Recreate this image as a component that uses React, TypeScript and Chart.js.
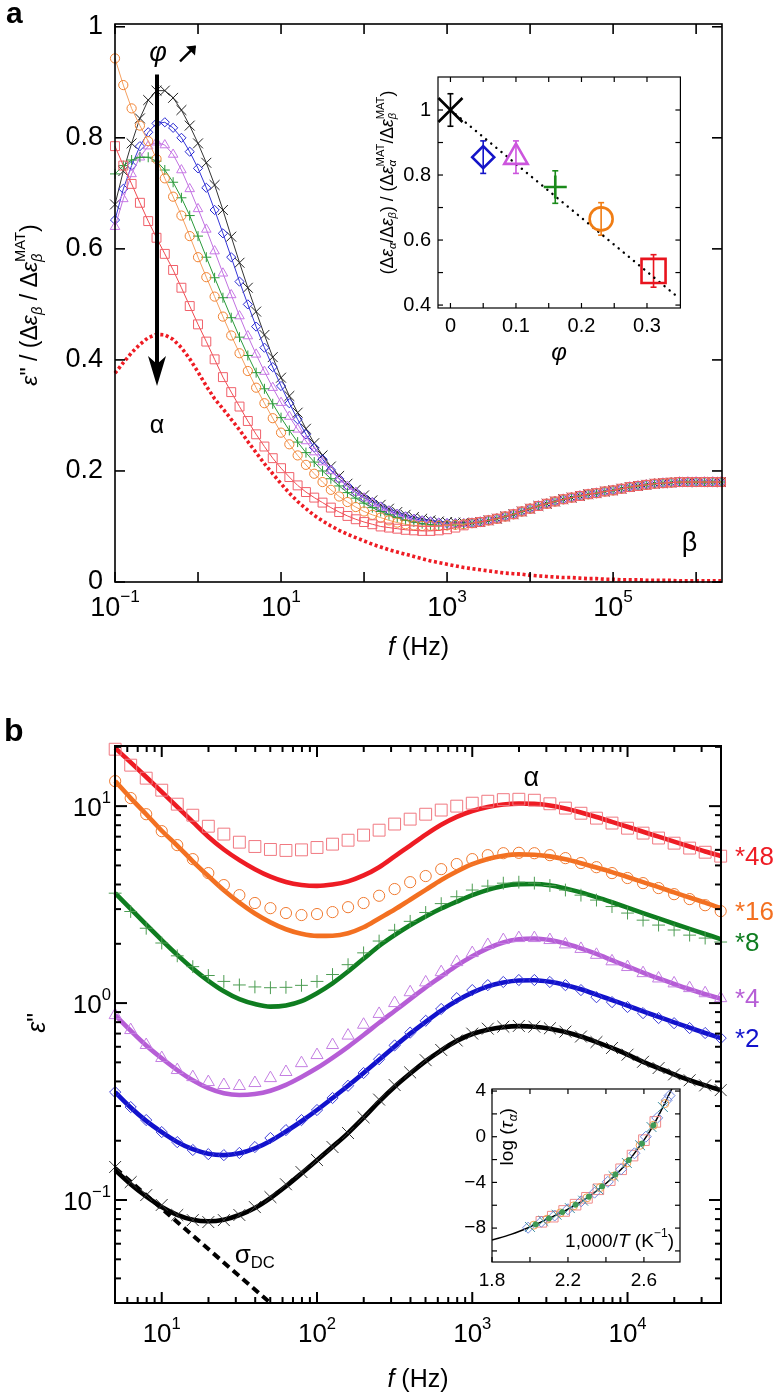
import React, { useEffect, useRef } from "react";
import { Chart, registerables } from "chart.js";

Chart.register(...registerables);

const FONT = '"Liberation Sans", Arimo, Arial, sans-serif';

// ---------------- Panel a data (x = log10 f) ----------------
const A_LOGF = [
  -1.0, -0.9, -0.8, -0.7, -0.6, -0.5, -0.4, -0.3, -0.2, -0.1,
  0.0, 0.1, 0.2, 0.3, 0.4, 0.5, 0.6, 0.7, 0.8, 0.9,
  1.0, 1.1, 1.2, 1.3, 1.4, 1.5, 1.6, 1.7, 1.8, 1.9,
  2.0, 2.1, 2.2, 2.3, 2.4, 2.5, 2.6, 2.7, 2.8, 2.9,
  3.0, 3.1, 3.2, 3.3, 3.4, 3.5, 3.6, 3.7, 3.8, 3.9,
  4.0, 4.1, 4.2, 4.3, 4.4, 4.5, 4.6, 4.7, 4.8, 4.9,
  5.0, 5.1, 5.2, 5.3, 5.4, 5.5, 5.6, 5.7, 5.8, 5.9,
  6.0, 6.1, 6.2, 6.3,
];
// low-frequency parts (log f = -1.0 ... 3.2)
const A_BLACK_LOW = [
  0.68, 0.74, 0.79, 0.835, 0.868, 0.885, 0.885, 0.872, 0.85, 0.822,
  0.79, 0.755, 0.715, 0.67, 0.622, 0.575, 0.53, 0.487, 0.445, 0.405,
  0.368, 0.335, 0.305, 0.276, 0.25, 0.228, 0.208, 0.191, 0.177, 0.166,
  0.156, 0.147, 0.139, 0.132, 0.126, 0.121, 0.117, 0.114, 0.111, 0.109,
  0.108, 0.107, 0.107,
];
const A_BLUE_LOW = [
  0.652, 0.708, 0.75, 0.785, 0.81, 0.826, 0.828, 0.818, 0.8, 0.775,
  0.745, 0.71, 0.67, 0.628, 0.585, 0.541, 0.5, 0.46, 0.422, 0.387,
  0.353, 0.322, 0.293, 0.266, 0.242, 0.221, 0.202, 0.186, 0.173, 0.162,
  0.152, 0.144, 0.136, 0.129, 0.123, 0.118, 0.114, 0.111, 0.109, 0.107,
  0.106, 0.106, 0.106,
];
const A_VIOLET_LOW = [
  0.64, 0.69, 0.735, 0.765, 0.785, 0.792, 0.787, 0.77, 0.742, 0.708,
  0.672, 0.635, 0.596, 0.556, 0.517, 0.479, 0.443, 0.41, 0.379, 0.35,
  0.323, 0.298, 0.275, 0.254, 0.234, 0.216, 0.2, 0.185, 0.172, 0.161,
  0.151, 0.142, 0.134, 0.127, 0.121, 0.116, 0.112, 0.109, 0.107, 0.105,
  0.104, 0.104, 0.105,
];
const A_GREEN_LOW = [
  0.735, 0.75, 0.76, 0.765, 0.765, 0.758, 0.742, 0.72, 0.692, 0.66,
  0.623, 0.585, 0.548, 0.512, 0.476, 0.441, 0.408, 0.377, 0.348, 0.321,
  0.296, 0.273, 0.252, 0.233, 0.216, 0.2, 0.186, 0.173, 0.161, 0.151,
  0.142, 0.134, 0.127, 0.121, 0.116, 0.111, 0.108, 0.105, 0.103, 0.102,
  0.102, 0.103, 0.104,
];
const A_ORANGE_LOW = [
  0.943, 0.895, 0.853, 0.822, 0.794, 0.762, 0.727, 0.694, 0.66, 0.623,
  0.585, 0.549, 0.514, 0.478, 0.444, 0.412, 0.38, 0.35, 0.322, 0.295,
  0.269, 0.248, 0.228, 0.211, 0.195, 0.18, 0.166, 0.154, 0.144, 0.135,
  0.127, 0.121, 0.116, 0.111, 0.107, 0.104, 0.102, 0.101, 0.101, 0.101,
  0.102, 0.103, 0.104,
];
const A_RED_LOW = [
  0.785, 0.75, 0.717, 0.683, 0.65, 0.62, 0.591, 0.562, 0.53, 0.497,
  0.464, 0.433, 0.401, 0.369, 0.342, 0.316, 0.29, 0.266, 0.244, 0.223,
  0.205, 0.189, 0.174, 0.162, 0.152, 0.143, 0.134, 0.126, 0.119, 0.113,
  0.108, 0.104, 0.1, 0.098, 0.096, 0.094, 0.093, 0.092, 0.092, 0.093,
  0.095, 0.098, 0.102,
];
// common beta-relaxation tail (log f = 3.3 ... 6.3)
const A_TAIL = [
  0.106, 0.108, 0.111, 0.114, 0.118, 0.122, 0.127,
  0.132, 0.137, 0.141, 0.145, 0.149, 0.152, 0.155, 0.158, 0.16, 0.163,
  0.165, 0.168, 0.171, 0.173, 0.175, 0.177, 0.178, 0.179, 0.18, 0.18,
  0.18, 0.18, 0.18, 0.18,
];
const A_RED_DOTTED = [
  0.376, 0.395, 0.413, 0.428, 0.44, 0.446, 0.445, 0.437, 0.422, 0.402,
  0.378, 0.353, 0.33, 0.312, 0.293, 0.274, 0.253, 0.233, 0.213, 0.195,
  0.177, 0.16, 0.145, 0.132, 0.12, 0.11, 0.101, 0.093, 0.086, 0.08,
  0.074, 0.068, 0.063, 0.058, 0.054, 0.05, 0.046, 0.042, 0.038, 0.035,
  0.032, 0.029, 0.026, 0.024, 0.022, 0.02, 0.018, 0.016, 0.015, 0.014,
  0.012, 0.011, 0.01, 0.009, 0.008, 0.008, 0.007, 0.006, 0.006, 0.005,
  0.005, 0.004, 0.004, 0.004, 0.003, 0.003, 0.003, 0.003, 0.002, 0.002,
  0.002, 0.002, 0.002, 0.002,
];
const A_X_TICK_EXP = [-1, 0, 1, 2, 3, 4, 5, 6];
const A_X_LABEL_EXP = [-1, 1, 3, 5];
const A_Y_TICKS = [0, 0.2, 0.4, 0.6, 0.8, 1];
const A_Y_LABELS = ["0", "0.2", "0.4", "0.6", "0.8", "1"];

// inset of panel a
const INSET_A_PHI = [0, 0.05, 0.1, 0.16, 0.23, 0.31];
const INSET_A_RATIO = [1.0, 0.855, 0.855, 0.763, 0.665, 0.505];
const INSET_A_ERR = [0.05, 0.05, 0.05, 0.05, 0.05, 0.05];
const INSET_A_FIT_X = [0, 0.345];
const INSET_A_FIT_Y = [1.0, 0.428];
const INSET_A_X_TICKS = [0, 0.05, 0.1, 0.15, 0.2, 0.25, 0.3];
const INSET_A_X_LABELS = [[0, "0"], [0.1, "0.1"], [0.2, "0.2"], [0.3, "0.3"]];
const INSET_A_Y_TICKS = [0.4, 0.5, 0.6, 0.7, 0.8, 0.9, 1.0];
const INSET_A_Y_LABELS = [[0.4, "0.4"], [0.6, "0.6"], [0.8, "0.8"], [1, "1"]];

// ---------------- Panel b data (log10 f, log10 eps'') ----------------
const B_LOGF = [
  0.7, 0.8, 0.9, 1.0, 1.1, 1.2, 1.3, 1.4, 1.5, 1.6,
  1.7, 1.8, 1.9, 2.0, 2.1, 2.2, 2.3, 2.4, 2.5, 2.6,
  2.7, 2.8, 2.9, 3.0, 3.1, 3.2, 3.3, 3.4, 3.5, 3.6,
  3.7, 3.8, 3.9, 4.0, 4.1, 4.2, 4.3, 4.4, 4.5, 4.6,
];
const B_RED_PTS = [
  1.289, 1.208, 1.142, 1.081, 1.01, 0.954, 0.898, 0.858, 0.817, 0.795,
  0.78, 0.775, 0.778, 0.79, 0.807, 0.827, 0.853, 0.878, 0.909, 0.934,
  0.959, 0.98, 1.0, 1.015, 1.025, 1.033, 1.035, 1.03, 1.012, 0.99,
  0.964, 0.939, 0.914, 0.888, 0.863, 0.838, 0.812, 0.787, 0.766, 0.746,
];
const B_RED_FIT = [
  1.295, 1.222, 1.148, 1.072, 0.996, 0.92, 0.845, 0.78, 0.726, 0.68,
  0.642, 0.615, 0.6, 0.595, 0.602, 0.618, 0.648, 0.69, 0.745, 0.8,
  0.855, 0.905, 0.945, 0.975, 0.995, 1.008, 1.013, 1.012, 1.003, 0.988,
  0.968, 0.945, 0.92, 0.895, 0.87, 0.845, 0.82, 0.795, 0.77, 0.747,
];
const B_ORANGE_PTS = [
  1.127, 1.041, 0.959, 0.873, 0.802, 0.731, 0.66, 0.599, 0.548, 0.508,
  0.482, 0.457, 0.447, 0.452, 0.462, 0.487, 0.508, 0.545, 0.579, 0.614,
  0.645, 0.68, 0.706, 0.731, 0.751, 0.761, 0.763, 0.761, 0.751, 0.736,
  0.711, 0.69, 0.66, 0.635, 0.609, 0.584, 0.553, 0.528, 0.497, 0.467,
];
const B_ORANGE_FIT = [
  1.127, 1.041, 0.959, 0.875, 0.8, 0.72, 0.645, 0.573, 0.51, 0.455,
  0.41, 0.375, 0.352, 0.341, 0.342, 0.355, 0.385, 0.43, 0.475, 0.525,
  0.575, 0.625, 0.668, 0.705, 0.732, 0.748, 0.755, 0.753, 0.745, 0.73,
  0.71, 0.688, 0.665, 0.64, 0.614, 0.589, 0.562, 0.536, 0.51, 0.482,
];
const B_GREEN_PTS = [
  0.558, 0.465, 0.38, 0.305, 0.24, 0.185, 0.14, 0.11, 0.092, 0.082,
  0.078, 0.08, 0.09, 0.11, 0.145, 0.195, 0.255, 0.315, 0.37, 0.415,
  0.46, 0.505, 0.54, 0.574, 0.594, 0.609, 0.614, 0.609, 0.597, 0.574,
  0.548, 0.523, 0.49, 0.457, 0.421, 0.396, 0.371, 0.345, 0.33, 0.31,
];
const B_GREEN_FIT = [
  0.558, 0.478, 0.398, 0.32, 0.245, 0.175, 0.113, 0.06, 0.02, -0.005,
  -0.018, -0.012, 0.01, 0.05, 0.1, 0.16, 0.225, 0.29, 0.345, 0.395,
  0.44, 0.48, 0.515, 0.548, 0.575, 0.595, 0.604, 0.605, 0.598, 0.582,
  0.562, 0.538, 0.512, 0.485, 0.457, 0.43, 0.403, 0.377, 0.351, 0.325,
];
const B_VIOLET_PTS = [
  -0.061, -0.137, -0.213, -0.279, -0.34, -0.376, -0.401, -0.416, -0.421, -0.406,
  -0.381, -0.35, -0.305, -0.264, -0.213, -0.165, -0.11, -0.055, 0.0, 0.055,
  0.105, 0.157, 0.208, 0.254, 0.295, 0.32, 0.33, 0.33, 0.32, 0.298,
  0.275, 0.245, 0.212, 0.183, 0.152, 0.125, 0.1, 0.076, 0.05, 0.025,
];
const B_VIOLET_FIT = [
  -0.061, -0.14, -0.215, -0.28, -0.34, -0.392, -0.432, -0.458, -0.467, -0.462,
  -0.445, -0.415, -0.375, -0.33, -0.278, -0.222, -0.162, -0.1, -0.04, 0.02,
  0.08, 0.135, 0.19, 0.238, 0.278, 0.308, 0.324, 0.328, 0.32, 0.303,
  0.278, 0.25, 0.218, 0.186, 0.155, 0.125, 0.097, 0.07, 0.045, 0.022,
];
const B_BLUE_PTS = [
  -0.452, -0.528, -0.594, -0.655, -0.706, -0.746, -0.767, -0.772, -0.761, -0.731,
  -0.685, -0.645, -0.594, -0.543, -0.482, -0.42, -0.355, -0.285, -0.215, -0.15,
  -0.09, -0.03, 0.025, 0.066, 0.091, 0.107, 0.117, 0.117, 0.107, 0.091,
  0.066, 0.03, 0.005, -0.02, -0.051, -0.076, -0.102, -0.127, -0.152, -0.178,
];
const B_BLUE_FIT = [
  -0.452, -0.53, -0.598, -0.655, -0.705, -0.742, -0.765, -0.772, -0.763, -0.738,
  -0.7, -0.652, -0.6, -0.543, -0.482, -0.42, -0.355, -0.288, -0.22, -0.155,
  -0.095, -0.038, 0.012, 0.053, 0.085, 0.105, 0.115, 0.116, 0.108, 0.092,
  0.07, 0.043, 0.015, -0.013, -0.042, -0.07, -0.098, -0.125, -0.152, -0.178,
];
const B_BLACK_PTS = [
  -0.832, -0.909, -0.975, -1.025, -1.076, -1.102, -1.112, -1.102, -1.076, -1.036,
  -0.985, -0.92, -0.858, -0.797, -0.731, -0.66, -0.58, -0.49, -0.416, -0.352,
  -0.29, -0.238, -0.19, -0.155, -0.13, -0.12, -0.116, -0.12, -0.128, -0.145,
  -0.17, -0.198, -0.228, -0.262, -0.298, -0.33, -0.362, -0.392, -0.418, -0.442,
];
const B_BLACK_FIT = [
  -0.848, -0.92, -0.982, -1.035, -1.075, -1.1, -1.108, -1.1, -1.076, -1.04,
  -0.99, -0.93, -0.865, -0.798, -0.73, -0.66, -0.582, -0.5, -0.425, -0.358,
  -0.295, -0.24, -0.192, -0.157, -0.135, -0.122, -0.117, -0.12, -0.13, -0.147,
  -0.17, -0.198, -0.228, -0.262, -0.298, -0.33, -0.362, -0.392, -0.418, -0.442,
];
const B_SIGMA_LOGF = [0.7, 1.9];
const B_SIGMA_LOG = [-0.838, -1.66];
const B_RIGHT_LABELS = ["*48", "*16", "*8", "*4", "*2"];
const B_X_LABEL_EXP = [1, 2, 3, 4];
const B_Y_LABEL_EXP = [-1, 0, 1];
const B_DECADES = [-2, -1, 0, 1, 2, 3, 4];
const B_MINOR_MANT = [2, 3, 4, 5, 6, 7, 8, 9];

// inset of panel b (1000/T, log tau)
const INSET_B_CURVE_X = [1.8, 1.9, 2.0, 2.1, 2.2, 2.3, 2.4, 2.5, 2.6, 2.65, 2.7, 2.75, 2.78];
const INSET_B_CURVE_Y = [-9.05, -8.55, -7.9, -7.15, -6.35, -5.35, -4.1, -2.5, -0.3, 1.0, 2.6, 4.3, 5.3];
const INSET_B_DIAMOND_X = [1.99, 2.06, 2.13, 2.2, 2.27, 2.34, 2.41, 2.48, 2.55, 2.61, 2.67, 2.72, 2.735];
const INSET_B_DIAMOND_Y = [-7.97, -7.45, -6.9, -6.35, -5.65, -4.9, -3.95, -2.85, -1.45, 0.0, 1.65, 3.2, 3.6];
const INSET_B_CROSS_X = [2.0, 2.07, 2.14, 2.21, 2.28, 2.36, 2.44, 2.51, 2.58, 2.64, 2.7];
const INSET_B_CROSS_Y = [-7.9, -7.37, -6.83, -6.25, -5.6, -4.6, -3.45, -2.3, -0.75, 0.85, 2.6];
const INSET_B_SQUARE_X = [2.06, 2.12, 2.18, 2.24, 2.3, 2.36, 2.42, 2.48, 2.54, 2.6, 2.66];
const INSET_B_SQUARE_Y = [-7.45, -7.0, -6.5, -5.95, -5.35, -4.6, -3.8, -2.85, -1.65, -0.3, 1.3];
const INSET_B_DOT_X = [2.03, 2.1, 2.17, 2.24, 2.31, 2.38, 2.45, 2.52, 2.59, 2.65];
const INSET_B_DOT_Y = [-7.68, -7.15, -6.6, -5.95, -5.25, -4.35, -3.3, -2.05, -0.6, 1.0];
const INSET_B_CIRCLE_X = [2.02, 2.09, 2.16, 2.23, 2.3, 2.37, 2.44, 2.51, 2.58, 2.65, 2.71];
const INSET_B_CIRCLE_Y = [-7.75, -7.22, -6.67, -6.05, -5.35, -4.45, -3.45, -2.3, -0.75, 1.0, 2.9];
const INSET_B_X_TICKS = [1.8, 2.0, 2.2, 2.4, 2.6];
const INSET_B_X_LABELS = [[1.8, "1.8"], [2.2, "2.2"], [2.6, "2.6"]];
const INSET_B_Y_TICKS = [-10, -8, -6, -4, -2, 0, 2, 4];
const INSET_B_Y_LABELS = [[4, "4"], [0, "0"], [-4, "\u22124"], [-8, "\u22128"]];

// ---------------- drawing helpers ----------------
type Seg = { t: string; it?: boolean; pos?: "sub" | "sup"; stack?: boolean; bold?: boolean };

function layoutRich(ctx: CanvasRenderingContext2D, segs: Seg[], size: number) {
  const items: { t: string; x: number; dy: number; font: string }[] = [];
  let cursor = 0;
  let lastStart = 0;
  for (const s of segs) {
    const fs = s.pos ? size * 0.64 : size;
    const font = `${s.it ? "italic " : ""}${s.bold ? "bold " : ""}${fs}px ${FONT}`;
    ctx.font = font;
    const w = ctx.measureText(s.t).width;
    const start = s.stack ? lastStart : cursor;
    const dy = s.pos === "sub" ? size * 0.3 : s.pos === "sup" ? -size * 0.42 : 0;
    items.push({ t: s.t, x: start, dy, font });
    cursor = s.stack ? Math.max(cursor, start + w) : start + w;
    lastStart = start;
  }
  return { items, width: cursor };
}

function drawRich(
  ctx: CanvasRenderingContext2D, segs: Seg[], x: number, y: number, size: number,
  align: "left" | "center" | "right", color: string, rotate = false,
) {
  ctx.save();
  ctx.translate(x, y);
  if (rotate) ctx.rotate(-Math.PI / 2);
  ctx.textBaseline = "middle";
  ctx.textAlign = "left";
  ctx.fillStyle = color;
  const { items, width } = layoutRich(ctx, segs, size);
  const x0 = align === "center" ? -width / 2 : align === "right" ? -width : 0;
  for (const it of items) {
    ctx.font = it.font;
    ctx.fillText(it.t, x0 + it.x, it.dy);
  }
  ctx.restore();
}

const pow10 = (e: number): Seg[] => [{ t: "10" }, { t: e < 0 ? "\u2212" + -e : String(e), pos: "sup" }];

function seg(ctx: CanvasRenderingContext2D, x1: number, y1: number, x2: number, y2: number) {
  ctx.beginPath();
  ctx.moveTo(x1, y1);
  ctx.lineTo(x2, y2);
  ctx.stroke();
}

function drawFrame(chart: any, xTicks: number[][], yTicks: number[][], lw: number) {
  const { ctx, chartArea: a } = chart;
  const xs = chart.scales.x;
  const ys = chart.scales.y;
  ctx.save();
  ctx.strokeStyle = "#000";
  ctx.lineWidth = lw;
  for (const [v, len] of xTicks) {
    const px = xs.getPixelForValue(v);
    seg(ctx, px, a.bottom, px, a.bottom - len);
    seg(ctx, px, a.top, px, a.top + len);
  }
  for (const [v, len] of yTicks) {
    const py = ys.getPixelForValue(v);
    seg(ctx, a.left, py, a.left + len, py);
    seg(ctx, a.right, py, a.right - len, py);
  }
  ctx.strokeRect(a.left, a.top, a.right - a.left, a.bottom - a.top);
  ctx.restore();
}

function logTicks(min: number, max: number, major: number, minor: number) {
  const out: number[][] = [];
  for (const d of B_DECADES) {
    for (const m of [1, ...B_MINOR_MANT]) {
      const v = m * 10 ** d;
      if (v >= min * 0.999 && v <= max * 1.001) out.push([v, m === 1 ? major : minor]);
    }
  }
  return out;
}

const xy = (xs: number[], ys: number[]) => xs.map((x, i) => ({ x, y: ys[i] }));
const CLEAR = "rgba(0,0,0,0)";

// ---------------- Panel a ----------------
const A_F = A_LOGF.map((l) => 10 ** l);
const A_SERIES = [
  { low: A_RED_LOW, color: "#f0606a", line: "#f04a50", style: "rect", r: 6.3 },
  { low: A_ORANGE_LOW, color: "#f08232", line: "#f5a060", style: "circle", r: 4.6 },
  { low: A_GREEN_LOW, color: "#2a9a3a", line: "#2a9a3a", style: "cross", r: 5 },
  { low: A_VIOLET_LOW, color: "#c878e6", line: "#c070e0", style: "triangle", r: 5.5 },
  { low: A_BLUE_LOW, color: "#2a2ad2", line: "#3535d8", style: "rectRot", r: 4.6 },
  { low: A_BLACK_LOW, color: "#222222", line: "#333333", style: "crossRot", r: 7 },
];

function buildA() {
  const datasets: any[] = [
    {
      data: xy(A_F, A_RED_DOTTED), borderColor: "#ee1c24", borderWidth: 3.6, borderDash: [3, 2.6],
      pointRadius: 0, clip: false, fill: false,
    },
    ...A_SERIES.map((s) => ({
      data: xy(A_F, [...s.low, ...A_TAIL]), showLine: true, borderColor: s.line, borderWidth: 1,
      pointStyle: s.style, pointRadius: s.r, pointBorderColor: s.color, pointBackgroundColor: CLEAR,
      pointBorderWidth: 1, clip: false, fill: false,
    })),
  ];
  const plugin = {
    id: "panelA",
    afterDraw(chart: any) {
      const { ctx, chartArea: a } = chart;
      const xs = chart.scales.x;
      const ys = chart.scales.y;
      drawFrame(chart, A_X_TICK_EXP.map((e) => [10 ** e, 10]), A_Y_TICKS.map((v) => [v, 10]), 1.6);
      A_X_LABEL_EXP.forEach((e) => drawRich(ctx, pow10(e), xs.getPixelForValue(10 ** e), a.bottom + 27, 27, "center", "#000"));
      A_Y_TICKS.forEach((v, i) => drawRich(ctx, [{ t: A_Y_LABELS[i] }], a.left - 12, ys.getPixelForValue(v), 27, "right", "#000"));
      drawRich(ctx, [{ t: "f", it: true }, { t: " (Hz)" }], (a.left + a.right) / 2, a.bottom + 66, 25, "center", "#000");
      drawRich(ctx, [
        { t: "\u03b5", it: true }, { t: "\"" }, { t: " / (\u0394" }, { t: "\u03b5", it: true },
        { t: "\u03b2", it: true, pos: "sub" }, { t: " / \u0394" }, { t: "\u03b5", it: true },
        { t: "\u03b2", it: true, pos: "sub" }, { t: "MAT", pos: "sup", stack: true }, { t: ")" },
      ], a.left - 84, (a.top + a.bottom) / 2 + 2, 23, "center", "#000", true);
      // label a
      drawRich(ctx, [{ t: "a", bold: true }], 6, 15, 30, "left", "#000");
      // phi arrow annotation
      const ax = xs.getPixelForValue(10 ** -0.494);
      const yTop = ys.getPixelForValue(0.914);
      const yTip = ys.getPixelForValue(0.353);
      ctx.save();
      ctx.strokeStyle = "#000";
      ctx.fillStyle = "#000";
      ctx.lineWidth = 4;
      seg(ctx, ax, yTop, ax, yTip - 20);
      ctx.beginPath();
      ctx.moveTo(ax, yTip);
      ctx.lineTo(ax - 9, yTip - 30);
      ctx.lineTo(ax, yTip - 22);
      ctx.lineTo(ax + 9, yTip - 30);
      ctx.closePath();
      ctx.fill();
      const py = ys.getPixelForValue(0.952);
      drawRich(ctx, [{ t: "\u03c6", it: true }], ax + 1, py, 27, "center", "#000");
      ctx.lineWidth = 2.4;
      const x1 = ax + 23, y1 = py + 8, x2 = ax + 38, y2 = py - 7;
      seg(ctx, x1, y1, x2, y2);
      ctx.beginPath();
      ctx.moveTo(x2 + 1, y2 - 1);
      ctx.lineTo(x2 - 9, y2 + 0);
      ctx.lineTo(x2, y2 + 9);
      ctx.closePath();
      ctx.fill();
      ctx.restore();
      drawRich(ctx, [{ t: "\u03b1" }], ax, ys.getPixelForValue(0.281), 25, "center", "#000");
      drawRich(ctx, [{ t: "\u03b2" }], xs.getPixelForValue(10 ** 5.92), ys.getPixelForValue(0.07), 27, "center", "#000");
    },
  };
  return {
    type: "line",
    data: { datasets },
    options: {
      animation: false, responsive: false, maintainAspectRatio: false,
      layout: { padding: { left: 115, top: 24, right: 59, bottom: 78 } },
      plugins: { legend: { display: false }, tooltip: { enabled: false } },
      scales: {
        x: { type: "logarithmic", min: 0.1, max: 2.05e6, display: false },
        y: { type: "linear", min: 0, max: 1.005, display: false },
      },
    },
    plugins: [plugin],
  };
}

// ---------------- Inset a ----------------
const INSET_A_COLORS = ["#000000", "#1414c8", "#cc55dd", "#1a8a1a", "#f07d14", "#e8141e"];
const INSET_A_STYLES = ["crossRot", "rectRot", "triangle", "cross", "circle", "rect"];
const INSET_A_RADII = [17, 11, 13.5, 11.5, 11.5, 17];

function buildInsetA() {
  const plugin = {
    id: "insetA",
    beforeDatasetsDraw(chart: any) {
      const { ctx } = chart;
      const xs = chart.scales.x;
      const ys = chart.scales.y;
      INSET_A_PHI.forEach((p, i) => {
        const px = xs.getPixelForValue(p);
        const y1 = ys.getPixelForValue(INSET_A_RATIO[i] - INSET_A_ERR[i]);
        const y2 = ys.getPixelForValue(INSET_A_RATIO[i] + INSET_A_ERR[i]);
        ctx.save();
        ctx.strokeStyle = INSET_A_COLORS[i];
        ctx.lineWidth = 1.6;
        seg(ctx, px, y1, px, y2);
        seg(ctx, px - 3, y1, px + 3, y1);
        seg(ctx, px - 3, y2, px + 3, y2);
        ctx.restore();
      });
    },
    afterDraw(chart: any) {
      const { ctx, chartArea: a } = chart;
      const xs = chart.scales.x;
      const ys = chart.scales.y;
      drawFrame(chart, INSET_A_X_TICKS.map((v) => [v, 5]), INSET_A_Y_TICKS.map((v) => [v, 5]), 1.2);
      INSET_A_X_LABELS.forEach(([v, t]: any) => drawRich(ctx, [{ t }], xs.getPixelForValue(v), a.bottom + 18, 20, "center", "#000"));
      INSET_A_Y_LABELS.forEach(([v, t]: any) => drawRich(ctx, [{ t }], a.left - 7, ys.getPixelForValue(v), 20, "right", "#000"));
      drawRich(ctx, [{ t: "\u03c6", it: true }], (a.left + a.right) / 2, a.bottom + 45, 24, "center", "#000");
      drawRich(ctx, [
        { t: "(\u0394" }, { t: "\u03b5", it: true }, { t: "\u03b1", it: true, pos: "sub" },
        { t: "/\u0394" }, { t: "\u03b5", it: true }, { t: "\u03b2", it: true, pos: "sub" },
        { t: ") / (\u0394" }, { t: "\u03b5", it: true }, { t: "\u03b1", it: true, pos: "sub" },
        { t: "MAT", pos: "sup", stack: true }, { t: "/\u0394" }, { t: "\u03b5", it: true },
        { t: "\u03b2", it: true, pos: "sub" }, { t: "MAT", pos: "sup", stack: true }, { t: ")" },
      ], a.left - 50, (a.top + a.bottom) / 2 - 10, 17.5, "center", "#000", true);
    },
  };
  return {
    type: "scatter",
    data: {
      datasets: [
        {
          data: xy(INSET_A_PHI, INSET_A_RATIO), pointStyle: INSET_A_STYLES, pointRadius: INSET_A_RADII,
          pointBorderColor: INSET_A_COLORS, pointBackgroundColor: CLEAR, pointBorderWidth: 2.6, clip: false,
        },
        {
          data: xy(INSET_A_FIT_X, INSET_A_FIT_Y), showLine: true, borderColor: "#000", borderWidth: 2.4,
          borderDash: [0.1, 6.5], borderCapStyle: "round", pointRadius: 0,
        },
      ],
    },
    options: {
      animation: false, responsive: false, maintainAspectRatio: false,
      layout: { padding: { left: 68, top: 37, right: 8, bottom: 62 } },
      plugins: { legend: { display: false }, tooltip: { enabled: false } },
      scales: {
        x: { type: "linear", min: -0.019, max: 0.351, display: false },
        y: { type: "linear", min: 0.391, max: 1.1015, display: false },
      },
    },
    plugins: [plugin],
  };
}

// ---------------- Panel b ----------------
const B_F = B_LOGF.map((l) => 10 ** l);
const P = (a: number[]) => a.map((l) => 10 ** l);
const B_SERIES = [
  { pts: B_RED_PTS, fit: B_RED_FIT, pc: "#f07880", lc: "#ee1c24", style: "rect", r: 8.4 },
  { pts: B_ORANGE_PTS, fit: B_ORANGE_FIT, pc: "#f07a30", lc: "#f37021", style: "circle", r: 5.6 },
  { pts: B_GREEN_PTS, fit: B_GREEN_FIT, pc: "#4c9c52", lc: "#0f7d20", style: "cross", r: 6.4 },
  { pts: B_VIOLET_PTS, fit: B_VIOLET_FIT, pc: "#c47ee2", lc: "#b65ed6", style: "triangle", r: 7 },
  { pts: B_BLUE_PTS, fit: B_BLUE_FIT, pc: "#3c3cd8", lc: "#1212cc", style: "rectRot", r: 5.6 },
  { pts: B_BLACK_PTS, fit: B_BLACK_FIT, pc: "#333333", lc: "#000000", style: "crossRot", r: 8.4 },
];

function buildB() {
  const markers = B_SERIES.map((s) => ({
    data: xy(B_F, P(s.pts)), showLine: false, pointStyle: s.style, pointRadius: s.r,
    pointBorderColor: s.pc, pointBackgroundColor: CLEAR, pointBorderWidth: 1, clip: false,
  }));
  const fits = B_SERIES.map((s) => ({
    data: xy(B_F, P(s.fit)), showLine: true, borderColor: s.lc, borderWidth: 4.6, pointRadius: 0,
    cubicInterpolationMode: "monotone", clip: 2,
  }));
  const sigma = {
    data: xy(P(B_SIGMA_LOGF), P(B_SIGMA_LOG)), showLine: true, borderColor: "#000", borderWidth: 4,
    borderDash: [8, 5], pointRadius: 0, clip: 0,
  };
  const plugin = {
    id: "panelB",
    afterDraw(chart: any) {
      const { ctx, chartArea: a } = chart;
      const xs = chart.scales.x;
      const ys = chart.scales.y;
      drawFrame(chart, logTicks(xs.min, xs.max, 11, 6), logTicks(ys.min, ys.max, 12, 6), 2);
      B_X_LABEL_EXP.forEach((e) => drawRich(ctx, pow10(e), xs.getPixelForValue(10 ** e), a.bottom + 32, 26, "center", "#000"));
      B_Y_LABEL_EXP.forEach((e) => drawRich(ctx, pow10(e), a.left - 4, ys.getPixelForValue(10 ** e) + 3, 26, "right", "#000"));
      drawRich(ctx, [{ t: "f", it: true }, { t: " (Hz)" }], (a.left + a.right) / 2, a.bottom + 77, 25, "center", "#000");
      drawRich(ctx, [{ t: "\u03b5", it: true }, { t: "\"" }], a.left - 77, ys.getPixelForValue(10 ** -0.1), 25, "center", "#000", true);
      drawRich(ctx, [{ t: "b", bold: true }], 4, 72, 32, "left", "#000");
      drawRich(ctx, [{ t: "\u03b1" }], xs.getPixelForValue(10 ** 3.38), ys.getPixelForValue(10 ** 1.142), 27, "center", "#000");
      drawRich(ctx, [{ t: "\u03c3" }, { t: "DC", pos: "sub" }], xs.getPixelForValue(10 ** 1.47), ys.getPixelForValue(10 ** -1.284), 26, "left", "#000");
      B_RIGHT_LABELS.forEach((t, i) => {
        const s = B_SERIES[i];
        const last = s.pts[s.pts.length - 1];
        drawRich(ctx, [{ t }], a.right + 14, ys.getPixelForValue(10 ** last) + 2, 26, "left", s.lc);
      });
    },
  };
  return {
    type: "line",
    data: { datasets: [...markers, ...fits, sigma] },
    options: {
      animation: false, responsive: false, maintainAspectRatio: false,
      layout: { padding: { left: 115, top: 86, right: 60, bottom: 92 } },
      plugins: { legend: { display: false }, tooltip: { enabled: false } },
      scales: {
        x: { type: "logarithmic", min: 5, max: 4e4, display: false },
        y: { type: "logarithmic", min: 0.03, max: 20.2, display: false },
      },
    },
    plugins: [plugin],
  };
}

// ---------------- Inset b ----------------
function buildInsetB() {
  const mk = (xs: number[], ys: number[], style: string, color: string, r: number, fillColor = CLEAR) => ({
    data: xy(xs, ys), showLine: false, pointStyle: style, pointRadius: r, pointBorderColor: color,
    pointBackgroundColor: fillColor, pointBorderWidth: 1, clip: false,
  });
  const plugin = {
    id: "insetB",
    afterDraw(chart: any) {
      const { ctx, chartArea: a } = chart;
      const xs = chart.scales.x;
      const ys = chart.scales.y;
      drawFrame(chart, INSET_B_X_TICKS.map((v) => [v, 5]), INSET_B_Y_TICKS.map((v) => [v, 5]), 1.2);
      INSET_B_X_LABELS.forEach(([v, t]: any) => drawRich(ctx, [{ t }], xs.getPixelForValue(v), a.bottom + 19, 19, "center", "#000"));
      INSET_B_Y_LABELS.forEach(([v, t]: any) => drawRich(ctx, [{ t }], a.left - 6, ys.getPixelForValue(v), 19, "right", "#000"));
      drawRich(ctx, [{ t: "log (" }, { t: "\u03c4", it: true }, { t: "\u03b1", it: true, pos: "sub" }, { t: ")" }],
        a.left + 16, ys.getPixelForValue(0), 19, "center", "#000", true);
      drawRich(ctx, [{ t: "1,000/" }, { t: "T", it: true }, { t: " (K" }, { t: "\u22121", pos: "sup" }, { t: ")" }],
        a.right - 6, a.bottom - 20, 19, "right", "#000");
    },
  };
  return {
    type: "scatter",
    data: {
      datasets: [
        mk(INSET_B_DOT_X, INSET_B_DOT_Y, "circle", "#3f9a55", 2.6, "#3f9a55"),
        mk(INSET_B_CROSS_X, INSET_B_CROSS_Y, "crossRot", "#3d8ea0", 7),
        mk(INSET_B_CIRCLE_X, INSET_B_CIRCLE_Y, "circle", "#f0a050", 4),
        mk(INSET_B_DIAMOND_X, INSET_B_DIAMOND_Y, "rectRot", "#7088dc", 5.5),
        mk(INSET_B_SQUARE_X, INSET_B_SQUARE_Y, "rect", "#f08a8a", 7.5),
        {
          data: xy(INSET_B_CURVE_X, INSET_B_CURVE_Y), showLine: true, borderColor: "#000", borderWidth: 1.5,
          pointRadius: 0, cubicInterpolationMode: "monotone",
        },
      ],
    },
    options: {
      animation: false, responsive: false, maintainAspectRatio: false,
      layout: { padding: { left: 52, top: 14, right: 10, bottom: 38 } },
      plugins: { legend: { display: false }, tooltip: { enabled: false } },
      scales: {
        x: { type: "linear", min: 1.8, max: 2.79, display: false },
        y: { type: "linear", min: -10.97, max: 4.18, display: false },
      },
    },
    plugins: [plugin],
  };
}

// ---------------- components ----------------
function ChartCanvas(props: { left: number; top: number; width: number; height: number; build: () => any }) {
  const ref = useRef<HTMLCanvasElement | null>(null);
  useEffect(() => {
    const chart = new Chart(ref.current as HTMLCanvasElement, props.build());
    return () => chart.destroy();
  }, []);
  const { left, top, width, height } = props;
  return (
    <canvas
      ref={ref}
      width={width}
      height={height}
      style={{ position: "absolute", left, top, width, height }}
    />
  );
}

export default function App() {
  return (
    <div style={{ position: "absolute", left: 0, top: 0, width: 781, height: 1395, background: "#fff", overflow: "hidden" }}>
      <ChartCanvas left={0} top={0} width={781} height={660} build={buildA} />
      <ChartCanvas left={370} top={40} width={330} height={330} build={buildInsetA} />
      <ChartCanvas left={0} top={660} width={781} height={735} build={buildB} />
      <ChartCanvas left={440} top={1075} width={250} height={225} build={buildInsetB} />
    </div>
  );
}
